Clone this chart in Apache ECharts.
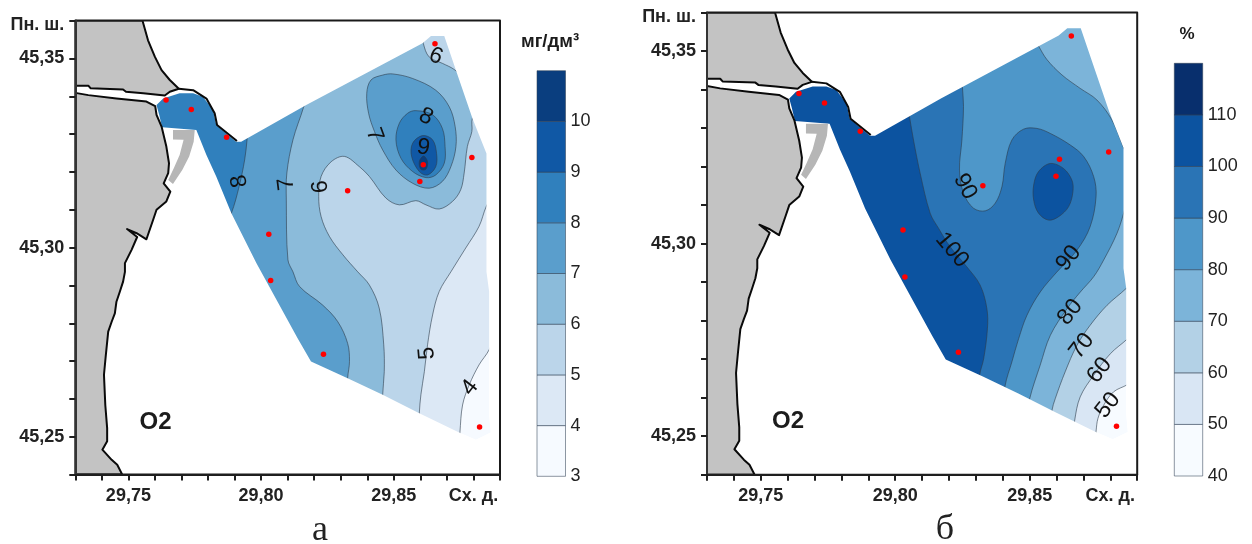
<!DOCTYPE html>
<html><head><meta charset="utf-8">
<style>html,body{margin:0;padding:0;background:#fff}#c{width:1252px;height:544px}</style>
<script src="https://cdn.jsdelivr.net/npm/echarts@6/dist/echarts.min.js"></script>
</head><body><div id="c"></div>
<script>
// ---------- geography (lon, lat) ----------
const stations = [[29.7642,45.3390],[29.7737,45.3365],[29.7870,45.3292],[29.8029,45.3035],[29.8036,45.2913],[29.8235,45.2718],[29.8326,45.3150],[29.8598,45.3175],[29.8611,45.3219],[29.8655,45.3539],[29.8794,45.3238],[29.8823,45.2526]];
const domain = [[29.7631,45.3394],[29.7693,45.3408],[29.7744,45.3408],[29.7781,45.3399],[29.7819,45.3364],[29.7831,45.3324],[29.7906,45.3280],[29.7925,45.3280],[29.8170,45.3377],[29.8608,45.3540],[29.8640,45.3559],[29.8690,45.3559],[29.8734,45.3469],[29.8796,45.3342],[29.8849,45.3249],[29.8849,45.2936],[29.8859,45.2884],[29.8859,45.2558],[29.8865,45.2511],[29.8809,45.2492],[29.8746,45.2511],[29.8596,45.2562],[29.8458,45.2611],[29.8326,45.2655],[29.8188,45.2699],[29.8138,45.2760],[29.7982,45.2959],[29.7888,45.3091],[29.7831,45.3188],[29.7794,45.3245],[29.7756,45.3311],[29.7627,45.3318],[29.7616,45.3351],[29.7606,45.3377]];
const frameRing = [[29.73,45.36],[29.89,45.36],[29.89,45.24],[29.73,45.24]];
const landNorth = [[29.73,45.36],[29.7553,45.36],[29.7574,45.3548],[29.7600,45.3504],[29.7625,45.3469],[29.7656,45.3443],[29.7690,45.3420],[29.7656,45.3412],[29.7637,45.3402],[29.7556,45.3408],[29.7491,45.3412],[29.7480,45.3418],[29.7358,45.3421],[29.7349,45.3428],[29.73,45.3428]];
const landSouth = [[29.73,45.3409],[29.7349,45.3403],[29.7455,45.3394],[29.7568,45.3386],[29.7601,45.3374],[29.7606,45.3351],[29.7625,45.3320],[29.7643,45.3267],[29.7653,45.3223],[29.7650,45.3197],[29.7633,45.3170],[29.7658,45.3148],[29.7643,45.3122],[29.7606,45.3100],[29.7593,45.3073],[29.7568,45.3022],[29.7531,45.3038],[29.7495,45.3049],[29.7533,45.3028],[29.7512,45.2994],[29.7487,45.2959],[29.7487,45.2936],[29.7480,45.2910],[29.7468,45.2884],[29.7455,45.2857],[29.7449,45.2826],[29.7437,45.2804],[29.7424,45.2778],[29.7415,45.2716],[29.7408,45.2664],[29.7413,45.2584],[29.7420,45.2523],[29.7420,45.2488],[29.7402,45.2466],[29.7437,45.2439],[29.7458,45.2426],[29.7477,45.24],[29.73,45.24]];
const spit = [[29.7690,45.3420],[29.7744,45.3416],[29.7794,45.3394],[29.7825,45.3355],[29.7834,45.3324],[29.7909,45.3282]];
const jetty = [[29.7668,45.3311],[29.7750,45.3311],[29.7746,45.3280],[29.7729,45.3241],[29.7703,45.3205],[29.7668,45.3168],[29.7650,45.3179],[29.7671,45.3210],[29.7693,45.3245],[29.7708,45.3285],[29.7668,45.3286]];

// ---------- panel a: O2, mg/dm3, iso-regions (value >= level) ----------
const mgBreaks = [3,4,5,6,7,8,9,10,11];
const mgColors = ['#f6faff','#dce8f5','#bbd5ea','#8bbbda','#5a9ecc','#3080bd','#1058a5','#0a3e7f'];
const mg4 = [[29.8890,45.2788],[29.8859,45.2730],[29.8821,45.2690],[29.8784,45.2637],[29.8759,45.2584],[29.8749,45.2511],[29.8740,45.2423],[29.731,45.2423],[29.731,45.359],[29.889,45.359]];
const mg5 = [[29.8890,45.3161],[29.8849,45.3110],[29.8821,45.3056],[29.8771,45.2999],[29.8715,45.2936],[29.8671,45.2884],[29.8646,45.2822],[29.8627,45.2743],[29.8615,45.2672],[29.8602,45.2611],[29.8596,45.2562],[29.8589,45.2423],[29.731,45.2423],[29.731,45.359],[29.889,45.359]];
const mg6 = [[29.8598,45.359],[29.8611,45.3540],[29.8633,45.3504],[29.8683,45.3487],[29.8727,45.3471],[29.8771,45.3443],[29.8834,45.3390],[29.8796,45.3342],[29.8794,45.3307],[29.8777,45.3267],[29.8765,45.3197],[29.8752,45.3153],[29.8721,45.3122],[29.8671,45.3102],[29.8621,45.3113],[29.8583,45.3124],[29.8521,45.3113],[29.8470,45.3131],[29.8408,45.3188],[29.8370,45.3214],[29.8314,45.3241],[29.8264,45.3227],[29.8226,45.3188],[29.8217,45.3135],[29.8226,45.3082],[29.8257,45.3030],[29.8308,45.2981],[29.8364,45.2936],[29.8408,45.2901],[29.8445,45.2840],[29.8462,45.2743],[29.8464,45.2672],[29.8458,45.2611],[29.8455,45.2423],[29.731,45.2423],[29.731,45.359]];
const mg7West = [[29.8176,45.3416],[29.8160,45.3371],[29.8120,45.3285],[29.8097,45.3197],[29.8095,45.3126],[29.8101,45.2968],[29.8120,45.2936],[29.8145,45.2897],[29.8232,45.2848],[29.8289,45.2804],[29.8326,45.2747],[29.8333,45.2699],[29.8326,45.2655],[29.8320,45.2511],[29.731,45.2511],[29.731,45.3416]];
const mg7East = [[29.8398,45.3408],[29.8414,45.3443],[29.8458,45.3456],[29.8496,45.3459],[29.8571,45.3447],[29.8658,45.3416],[29.8709,45.3372],[29.8731,45.3320],[29.8734,45.3267],[29.8715,45.3214],[29.8683,45.3175],[29.8633,45.3157],[29.8571,45.3170],[29.8508,45.3205],[29.8458,45.3258],[29.8427,45.3307],[29.8405,45.3355]];
const mg8West = [[29.7950,45.3320],[29.7947,45.3285],[29.7938,45.3232],[29.7917,45.3161],[29.7888,45.3091],[29.7856,45.3047],[29.731,45.3047],[29.731,45.345],[29.7950,45.345]];
const mg8East = [[29.8583,45.3362],[29.8646,45.3351],[29.8683,45.3315],[29.8693,45.3267],[29.8690,45.3223],[29.8658,45.3192],[29.8621,45.3185],[29.8571,45.3201],[29.8527,45.3236],[29.8508,45.3285],[29.8521,45.3329],[29.8552,45.3355]];
const mg9 = [[29.8608,45.3296],[29.8646,45.3285],[29.8661,45.3249],[29.8658,45.3214],[29.8627,45.3192],[29.8596,45.3201],[29.8567,45.3241],[29.8571,45.3276]];
const mg10 = [[29.8612,45.3242],[29.8627,45.3227],[29.8621,45.3207],[29.8602,45.3207],[29.8596,45.3227]];
const mgLabelLon = [29.7919,29.8095,29.8224,29.8427,29.8621,29.8611,29.8658,29.8625,29.8787];
const mgLabelLat = [45.3176,45.3168,45.3161,45.3298,45.3346,45.3264,45.3506,45.2721,45.2630];
const mgLabelText = ['8','7','6','7','8','9','6','5','4'];
const mgLabelAngle = [100,97,95,-70,-25,-10,-22,95,52];

// ---------- panel b: O2, %, iso-regions ----------
const pctBreaks = [40,50,60,70,80,90,100,110,120];
const pctColors = ['#f7fbff','#d9e6f4','#b3d1e6','#7cb4d9','#4e97c9','#2a74b5','#0c53a0','#082f6d'];
const pct50 = [[29.889,45.2649],[29.8864,45.2634],[29.8812,45.2615],[29.8775,45.2580],[29.8754,45.2546],[29.8747,45.2513],[29.8738,45.2456],[29.731,45.2456],[29.731,45.359],[29.889,45.359]];
const pct60 = [[29.889,45.2775],[29.8864,45.2753],[29.8800,45.2714],[29.8738,45.2658],[29.8688,45.2602],[29.8667,45.2539],[29.8657,45.2473],[29.731,45.2473],[29.731,45.359],[29.889,45.359]];
const pct70 = [[29.889,45.2909],[29.8858,45.2883],[29.8788,45.2840],[29.8725,45.2788],[29.8676,45.2736],[29.8632,45.2667],[29.8595,45.2597],[29.8583,45.2567],[29.8570,45.2490],[29.731,45.2490],[29.731,45.359],[29.889,45.359]];
const pct80 = [[29.8508,45.3542],[29.8533,45.3513],[29.8564,45.3478],[29.8620,45.3438],[29.8688,45.3403],[29.8750,45.3373],[29.8806,45.3321],[29.8843,45.3260],[29.8887,45.3174],[29.8853,45.3087],[29.8825,45.3027],[29.8775,45.2957],[29.8738,45.2914],[29.8688,45.2874],[29.8639,45.2831],[29.8577,45.2762],[29.8539,45.2684],[29.8500,45.2597],[29.8484,45.2525],[29.731,45.2525],[29.731,45.3542]];
const pct90 = [[29.8250,45.3433],[29.8250,45.3406],[29.8254,45.3356],[29.8248,45.3269],[29.8239,45.3191],[29.8254,45.3131],[29.8291,45.3092],[29.8335,45.3085],[29.8372,45.3105],[29.8397,45.3148],[29.8409,45.3208],[29.8434,45.3269],[29.8477,45.3297],[29.8527,45.3299],[29.8577,45.3286],[29.8651,45.3256],[29.8701,45.3226],[29.8738,45.3174],[29.8747,45.3122],[29.8725,45.3044],[29.8676,45.2983],[29.8601,45.2926],[29.8539,45.2874],[29.8490,45.2814],[29.8459,45.2753],[29.8434,45.2693],[29.8409,45.2632],[29.8397,45.2551],[29.731,45.2551],[29.731,45.345],[29.8250,45.345]];
const pct100West = [[29.8037,45.3390],[29.8053,45.3330],[29.8068,45.3269],[29.8093,45.3182],[29.8130,45.3079],[29.8161,45.3040],[29.8204,45.2992],[29.8266,45.2940],[29.8316,45.2892],[29.8341,45.2831],[29.8343,45.2779],[29.8329,45.2701],[29.8314,45.2658],[29.8304,45.2551],[29.731,45.2551],[29.731,45.345],[29.8037,45.345]];
const pct100East = [[29.8577,45.3208],[29.8626,45.3195],[29.8657,45.3165],[29.8661,45.3135],[29.8645,45.3096],[29.8608,45.3070],[29.8570,45.3061],[29.8533,45.3079],[29.8515,45.3113],[29.8515,45.3152],[29.8533,45.3187]];
const pctLabelLon = [29.8260,29.8211,29.8645,29.8651,29.8694,29.8760,29.8791];
const pctLabelLat = [45.3148,45.2983,45.2962,45.2822,45.2734,45.2671,45.2580];
const pctLabelText = ['90','100','90','80','70','60','50'];
const pctLabelAngle = [-62,-50,52,52,52,52,52];

// ---------- axis labels ----------
const lonTickLabels = {'29.75':'29,75','29.80':'29,80','29.85':'29,85','29.88':'Сх. д.'};
const latTickLabels = {'45.25':'45,25','45.30':'45,30','45.35':'45,35','45.36':'{top|Пн. ш.}'};

// ---------- helpers ----------
const CONTOUR = 'rgba(45,60,75,0.6)';
function shapeSeries(g, pts, fill, opt){
  opt = opt || {};
  return {type:'custom', coordinateSystem:'cartesian2d', xAxisIndex:g, yAxisIndex:g, clip:opt.clip!==false, silent:true, z:opt.z||2,
    data:[pts[0]],
    renderItem:(p,api)=>({type:opt.line?'polyline':'polygon',
      shape:{points:pts.map(q=>api.coord(q)), smooth:opt.smooth||0},
      style:{fill:opt.line?null:fill, stroke:opt.stroke||null, lineWidth:opt.lw||1, lineJoin:'round'}})};
}
function level(g, pts, fill){ return shapeSeries(g, pts, fill, {smooth:0.35, stroke:CONTOUR, lw:1}); }
function labels(g, lon, lat, txt, ang, size){
  return {type:'custom', coordinateSystem:'cartesian2d', xAxisIndex:g, yAxisIndex:g, silent:true, z:7,
    data:lon.map((v,i)=>[v,lat[i]]),
    renderItem:(p,api)=>{const i=p.dataIndex, c=api.coord([lon[i],lat[i]]);
      return {type:'text', x:c[0], y:c[1], rotation:ang[i]*Math.PI/180,
        style:{text:txt[i], fill:'#111', font:size+'px "Liberation Sans"', align:'center', verticalAlign:'middle'}};}};
}
function mapSeries(g, layers, baseColor, lb){
  const mask = frameRing.concat([frameRing[0], domain[0]], domain.slice(1).reverse(), [domain[0], frameRing[0]]);
  const out = [shapeSeries(g, domain, baseColor)];
  layers.forEach(l=>out.push(level(g,l[0],l[1])));
  out.push(shapeSeries(g, mask, '#fff', {z:3}));
  out.push(shapeSeries(g, jetty, '#b6b6b6', {z:4}));
  out.push(shapeSeries(g, landNorth, '#c3c3c3', {z:4, stroke:'#0a0a0a', lw:2}));
  out.push(shapeSeries(g, landSouth, '#c3c3c3', {z:4, stroke:'#0a0a0a', lw:2}));
  out.push(shapeSeries(g, spit, null, {z:4, line:true, stroke:'#0a0a0a', lw:2}));
  out.push(shapeSeries(g, frameRing, 'transparent', {z:5, stroke:'#1a1a1a', lw:2, clip:false}));
  out.push({type:'scatter', xAxisIndex:g, yAxisIndex:g, data:stations, symbolSize:5.5, itemStyle:{color:'#ff0000', opacity:1}, z:8, silent:true});
  out.push(labels(g, lb[0], lb[1], lb[2], lb[3], 23));
  return out;
}
function barSeries(g, breaks, colors){
  return {type:'custom', coordinateSystem:'cartesian2d', xAxisIndex:g, yAxisIndex:g, silent:true,
    data:colors.map((c,i)=>[0,breaks[i]]),
    renderItem:(p,api)=>{const i=p.dataIndex, a=api.coord([0,breaks[i+1]]), b=api.coord([1,breaks[i]]);
      return {type:'rect', shape:{x:a[0],y:a[1],width:b[0]-a[0],height:b[1]-a[1]},
        style:{fill:colors[i], stroke:'rgba(50,65,85,0.55)', lineWidth:1}};}};
}
const axisFont = {fontFamily:'"Liberation Sans"', fontWeight:'bold', fontSize:18, color:'#222'};
function lonAxis(g){ return {gridIndex:g, type:'value', min:29.73, max:29.89, interval:0.01, z:6,
  axisLine:{onZero:false, lineStyle:{color:'#1f1f1f',width:2}}, axisTick:{length:6, lineStyle:{color:'#1f1f1f',width:2}}, splitLine:{show:false},
  axisLabel:Object.assign({margin:12, showMinLabel:true, showMaxLabel:true, formatter:v=>lonTickLabels[v.toFixed(2)]||''}, axisFont)}; }
function latAxis(g){ return {gridIndex:g, type:'value', min:45.24, max:45.36, interval:0.01, z:6,
  axisLine:{onZero:false, lineStyle:{color:'#333',width:2}}, axisTick:{length:6, lineStyle:{color:'#1f1f1f',width:2}}, splitLine:{show:false},
  axisLabel:Object.assign({margin:11, showMinLabel:true, showMaxLabel:true, formatter:v=>latTickLabels[v.toFixed(2)]||'',
    rich:{top:{fontFamily:'"Liberation Sans"', fontWeight:'bold', fontSize:18, color:'#222', padding:[9,0,0,0]}}}, axisFont)}; }
function barX(g){ return {gridIndex:g, type:'value', min:0, max:1, show:false}; }
function barY(g, b){ const top=b[b.length-1]; return {gridIndex:g, type:'value', min:b[0], max:top, interval:b[1]-b[0], position:'right',
  axisLine:{show:false}, axisTick:{show:false}, splitLine:{show:false},
  axisLabel:{margin:5, fontFamily:'"Liberation Sans"', fontSize:18, color:'#222', showMaxLabel:false, formatter:v=>v===top?'':String(v)}}; }
function txt(x,y,t,font,fill){ return {type:'text', x:x, y:y, z:20, silent:true,
  style:{text:t, font:font, fill:fill||'#1c1c1c', align:'center', verticalAlign:'middle'}}; }

const option = {
  animation:false, backgroundColor:'#fff',
  grid:[
    {left:75.3, top:20.6, width:424.7, height:454},
    {left:707, top:12.5, width:430.2, height:462.2},
    {left:537, top:70.7, width:28.5, height:405.6},
    {left:1174.3, top:63.3, width:28.4, height:412.7}
  ],
  xAxis:[lonAxis(0), lonAxis(1), barX(2), barX(3)],
  yAxis:[latAxis(0), latAxis(1), barY(2,mgBreaks), barY(3,pctBreaks)],
  series:[].concat(
    mapSeries(0, [[mg4,mgColors[1]],[mg5,mgColors[2]],[mg6,mgColors[3]],[mg7West,mgColors[4]],[mg7East,mgColors[4]],[mg8West,mgColors[5]],[mg8East,mgColors[5]],[mg9,mgColors[6]],[mg10,mgColors[7]]], mgColors[0], [mgLabelLon,mgLabelLat,mgLabelText,mgLabelAngle]),
    mapSeries(1, [[pct50,pctColors[1]],[pct60,pctColors[2]],[pct70,pctColors[3]],[pct80,pctColors[4]],[pct90,pctColors[5]],[pct100West,pctColors[6]],[pct100East,pctColors[6]]], pctColors[0], [pctLabelLon,pctLabelLat,pctLabelText,pctLabelAngle]),
    [barSeries(2,mgBreaks,mgColors), barSeries(3,pctBreaks,pctColors)]
  ),
  graphic:[
    txt(155.5,422,'O2','bold 24px "Liberation Sans"'),
    txt(788,421,'O2','bold 24px "Liberation Sans"'),
    txt(550,42,'мг/дм³','bold 18.5px "Liberation Sans"'),
    txt(1187,34,'%','bold 17px "Liberation Sans"'),
    txt(320,531,'а','36px "Liberation Serif"','#222'),
    txt(945,530,'б','36px "Liberation Serif"','#222')
  ]
};
echarts.init(document.getElementById('c'),null,{renderer:'canvas'}).setOption(option);
</script></body></html>
